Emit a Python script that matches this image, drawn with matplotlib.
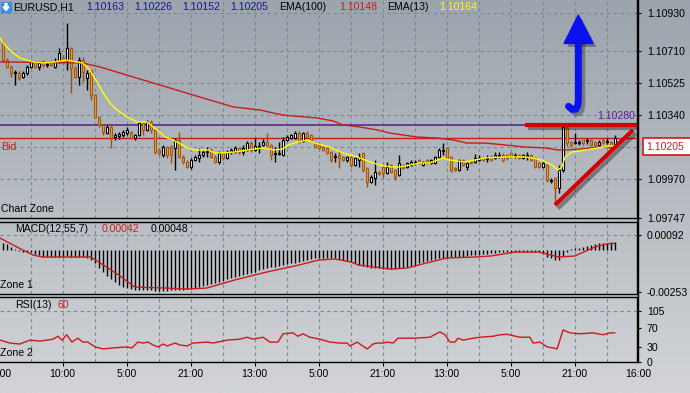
import numpy as np
import matplotlib
matplotlib.use("Agg")
import matplotlib.pyplot as plt
from matplotlib.patches import Rectangle, Polygon
import matplotlib.patheffects as pe

plt.rcParams['font.family'] = ['Liberation Sans', 'DejaVu Sans']

# ---------------- data (EURUSD H1) ----------------
opens = [1.10756, 1.10658, 1.10618, 1.10583, 1.10583, 1.10560, 1.10583, 1.10618, 1.10647, 1.10618,
         1.10647, 1.10629, 1.10647, 1.10618, 1.10647, 1.10670, 1.10658, 1.10728, 1.10612, 1.10560,
         1.10658, 1.10554, 1.10600, 1.10456, 1.10329, 1.10283, 1.10236, 1.10271, 1.10213, 1.10219,
         1.10225, 1.10236, 1.10242, 1.10207, 1.10225, 1.10294, 1.10254, 1.10300, 1.10254, 1.10138,
         1.10109, 1.10155, 1.10155, 1.10150, 1.10196, 1.10098, 1.10069, 1.10040, 1.10080, 1.10092,
         1.10109, 1.10126, 1.10138, 1.10098, 1.10069, 1.10121, 1.10092, 1.10126, 1.10126, 1.10150,
         1.10126, 1.10138, 1.10178, 1.10138, 1.10155, 1.10167, 1.10184, 1.10167, 1.10115, 1.10115,
         1.10109, 1.10196, 1.10207, 1.10207, 1.10236, 1.10190, 1.10236, 1.10225, 1.10178, 1.10167,
         1.10155, 1.10150, 1.10126, 1.10098, 1.10109, 1.10098, 1.10080, 1.10098, 1.10051, 1.10080,
         1.10121, 1.10034, 1.09953, 1.09976, 1.10011, 1.10040, 1.10005, 1.10051, 1.10022, 1.09993,
         1.10051, 1.10040, 1.10051, 1.10063, 1.10080, 1.10051, 1.10080, 1.10063, 1.10063, 1.10098,
         1.10132, 1.10150, 1.10098, 1.10034, 1.10022, 1.10080, 1.10040, 1.10069, 1.10069, 1.10080,
         1.10092, 1.10086, 1.10098, 1.10092, 1.10103, 1.10109, 1.10109, 1.10121, 1.10103, 1.10109,
         1.10092, 1.10103, 1.10109, 1.10092, 1.10063, 1.10040, 1.10051, 1.09959, 1.09976, 1.09918,
         1.10022, 1.10265, 1.10184, 1.10178, 1.10178, 1.10207, 1.10190, 1.10196, 1.10184, 1.10167,
         1.10196, 1.10184, 1.10184, 1.10163]
highs = [1.10774, 1.10670, 1.10629, 1.10600, 1.10595, 1.10595, 1.10629, 1.10658, 1.10652, 1.10647,
         1.10658, 1.10647, 1.10658, 1.10670, 1.10728, 1.10687, 1.10872, 1.10733, 1.10624, 1.10676,
         1.10676, 1.10600, 1.10606, 1.10462, 1.10335, 1.10288, 1.10283, 1.10288, 1.10236, 1.10242,
         1.10254, 1.10271, 1.10248, 1.10231, 1.10306, 1.10300, 1.10311, 1.10311, 1.10259, 1.10150,
         1.10167, 1.10161, 1.10167, 1.10207, 1.10242, 1.10109, 1.10080, 1.10092, 1.10109, 1.10150,
         1.10138, 1.10155, 1.10150, 1.10109, 1.10132, 1.10126, 1.10138, 1.10150, 1.10161, 1.10155,
         1.10167, 1.10190, 1.10190, 1.10207, 1.10184, 1.10202, 1.10236, 1.10173, 1.10155, 1.10184,
         1.10213, 1.10225, 1.10231, 1.10248, 1.10248, 1.10242, 1.10248, 1.10231, 1.10184, 1.10173,
         1.10161, 1.10155, 1.10132, 1.10121, 1.10138, 1.10103, 1.10103, 1.10103, 1.10098, 1.10121,
         1.10126, 1.10040, 1.09993, 1.10080, 1.10017, 1.10051, 1.10069, 1.10057, 1.10028, 1.10109,
         1.10057, 1.10069, 1.10080, 1.10080, 1.10086, 1.10074, 1.10086, 1.10086, 1.10103, 1.10150,
         1.10178, 1.10155, 1.10103, 1.10040, 1.10086, 1.10086, 1.10069, 1.10080, 1.10115, 1.10109,
         1.10098, 1.10109, 1.10109, 1.10126, 1.10126, 1.10121, 1.10115, 1.10126, 1.10121, 1.10115,
         1.10115, 1.10126, 1.10115, 1.10098, 1.10069, 1.10069, 1.10057, 1.09976, 1.09982, 1.10051,
         1.10283, 1.10283, 1.10190, 1.10236, 1.10196, 1.10213, 1.10207, 1.10202, 1.10190, 1.10196,
         1.10207, 1.10207, 1.10190, 1.10226]
lows = [1.10647, 1.10612, 1.10560, 1.10514, 1.10543, 1.10554, 1.10571, 1.10612, 1.10612, 1.10600,
        1.10618, 1.10618, 1.10624, 1.10612, 1.10641, 1.10635, 1.10600, 1.10467, 1.10554, 1.10514,
        1.10531, 1.10485, 1.10427, 1.10323, 1.10271, 1.10225, 1.10231, 1.10150, 1.10196, 1.10202,
        1.10213, 1.10225, 1.10202, 1.10196, 1.10219, 1.10225, 1.10248, 1.10236, 1.10115, 1.10109,
        1.10098, 1.10092, 1.10063, 1.10022, 1.10092, 1.10057, 1.10034, 1.10028, 1.10074, 1.10069,
        1.10098, 1.10098, 1.10092, 1.10063, 1.10057, 1.10080, 1.10086, 1.10115, 1.10121, 1.10115,
        1.10109, 1.10132, 1.10126, 1.10132, 1.10121, 1.10161, 1.10161, 1.10080, 1.10069, 1.10109,
        1.10103, 1.10190, 1.10202, 1.10202, 1.10178, 1.10184, 1.10207, 1.10190, 1.10150, 1.10144,
        1.10132, 1.10115, 1.10069, 1.10069, 1.10034, 1.10074, 1.10069, 1.10040, 1.10046, 1.10040,
        1.10011, 1.09924, 1.09947, 1.09936, 1.09993, 1.09976, 1.09999, 1.10005, 1.09965, 1.09988,
        1.10028, 1.10034, 1.10046, 1.10051, 1.10057, 1.10046, 1.10057, 1.10057, 1.10057, 1.10092,
        1.10109, 1.10086, 1.10011, 1.10017, 1.10017, 1.10046, 1.10022, 1.10057, 1.10063, 1.10074,
        1.10074, 1.10069, 1.10074, 1.10086, 1.10092, 1.10069, 1.10080, 1.10092, 1.10092, 1.10086,
        1.10086, 1.10080, 1.10074, 1.10034, 1.10034, 1.10034, 1.09953, 1.09947, 1.09820, 1.09890,
        1.10011, 1.10161, 1.10155, 1.10173, 1.10167, 1.10167, 1.10173, 1.10161, 1.10155, 1.10161,
        1.10173, 1.10173, 1.10161, 1.10152]
closes = [1.10658, 1.10618, 1.10583, 1.10589, 1.10554, 1.10583, 1.10618, 1.10647, 1.10618, 1.10641,
          1.10629, 1.10635, 1.10629, 1.10647, 1.10699, 1.10647, 1.10728, 1.10612, 1.10560, 1.10658,
          1.10589, 1.10583, 1.10456, 1.10329, 1.10283, 1.10242, 1.10271, 1.10207, 1.10225, 1.10231,
          1.10242, 1.10254, 1.10207, 1.10225, 1.10294, 1.10254, 1.10300, 1.10254, 1.10126, 1.10121,
          1.10155, 1.10109, 1.10109, 1.10196, 1.10098, 1.10069, 1.10040, 1.10080, 1.10098, 1.10109,
          1.10126, 1.10132, 1.10098, 1.10069, 1.10121, 1.10092, 1.10126, 1.10138, 1.10150, 1.10126,
          1.10150, 1.10178, 1.10138, 1.10161, 1.10161, 1.10184, 1.10167, 1.10109, 1.10121, 1.10121,
          1.10196, 1.10213, 1.10225, 1.10236, 1.10184, 1.10236, 1.10213, 1.10196, 1.10155, 1.10150,
          1.10138, 1.10121, 1.10080, 1.10103, 1.10092, 1.10080, 1.10098, 1.10051, 1.10092, 1.10098,
          1.10022, 1.09953, 1.09982, 1.10011, 1.09999, 1.10005, 1.10040, 1.10011, 1.09982, 1.10063,
          1.10034, 1.10063, 1.10069, 1.10069, 1.10063, 1.10069, 1.10063, 1.10080, 1.10098, 1.10138,
          1.10138, 1.10092, 1.10022, 1.10022, 1.10080, 1.10051, 1.10063, 1.10063, 1.10092, 1.10092,
          1.10080, 1.10092, 1.10080, 1.10109, 1.10109, 1.10080, 1.10092, 1.10098, 1.10109, 1.10092,
          1.10109, 1.10109, 1.10080, 1.10040, 1.10040, 1.10063, 1.09965, 1.09965, 1.09918, 1.10022,
          1.10271, 1.10178, 1.10167, 1.10184, 1.10184, 1.10178, 1.10196, 1.10167, 1.10167, 1.10184,
          1.10178, 1.10190, 1.10167, 1.10205]

ema13_idx = [-0.7, 1, 2.6, 4.3, 6, 7.6, 10, 13, 16, 18.5, 20, 21.8, 23.6, 25.1, 26.8, 28.6, 31.1,
             33.6, 36.1, 37.6, 39.3, 40.6, 42.6, 46.3, 48, 51.3, 53, 54.8, 58, 61.3, 64.8, 68, 70,
             71.3, 73.8, 76.3, 78, 81.8, 85, 88.6, 91.8, 94.3, 96.8, 99.3, 101.8, 104.3, 106.8, 110,
             111.8, 115.6, 120.6, 125.6, 130.6, 132.3, 134.8, 137.3, 138.8, 139.8, 140.6, 142.3,
             145.6, 148.8, 153]
ema13_val = [1.10785, 1.10733, 1.10699, 1.10670, 1.10658, 1.10647, 1.10641, 1.10647, 1.10658,
             1.10647, 1.10641, 1.10600, 1.10531, 1.10467, 1.10410, 1.10369, 1.10329, 1.10300,
             1.10300, 1.10271, 1.10242, 1.10213, 1.10196, 1.10150, 1.10138, 1.10138, 1.10121,
             1.10121, 1.10126, 1.10138, 1.10150, 1.10138, 1.10144, 1.10167, 1.10184, 1.10196,
             1.10178, 1.10155, 1.10121, 1.10098, 1.10069, 1.10051, 1.10040, 1.10040, 1.10051,
             1.10063, 1.10063, 1.10092, 1.10080, 1.10069, 1.10092, 1.10098, 1.10098, 1.10092,
             1.10080, 1.10051, 1.10022, 1.10040, 1.10098, 1.10126, 1.10138, 1.10150, 1.10164]

ema100_idx = [-0.7, 20, 24.3, 28.5, 32.6, 36.8, 41, 46, 49.3, 57.6, 64.3, 70, 78.6, 82.6, 85, 89.3,
              93.6, 96.8, 100, 103.6, 108.6, 112.6, 116, 120.6, 125.6, 130.6, 135.6, 138.8, 140.6,
              144.8, 148.8, 153]
ema100_val = [1.10647, 1.10641, 1.10618, 1.10589, 1.10560, 1.10531, 1.10502, 1.10467, 1.10444,
              1.10387, 1.10369, 1.10340, 1.10323, 1.10306, 1.10283, 1.10271, 1.10254, 1.10236,
              1.10225, 1.10213, 1.10207, 1.10196, 1.10178, 1.10178, 1.10167, 1.10155, 1.10150,
              1.10138, 1.10138, 1.10144, 1.10155, 1.10150]

# MACD histogram, in units of 1e-5
macd_hist_e5 = [45, 35, 22, 8, -5, -8, -10, -12, -20, -30,
                -38, -40, -41, -41, -40, -38, -36, -38, -40, -42, -42, -44,
                -60, -80, -105, -130, -155, -172, -190, -208, -220, -230, -236, -239,
                -241, -242, -243, -243, -244, -244, -244, -244, -243, -242, -241,
                -240, -237, -233, -228, -223, -217, -210, -204, -198, -192, -185, -177,
                -170, -162, -156, -150, -144, -138, -130, -122, -115, -108, -104, -100,
                -95, -90, -85, -80, -75, -71, -66, -60, -54, -48, -46, -45,
                -46, -47, -50, -55, -62, -68, -74, -80, -90, -95, -100, -105,
                -108, -110, -112, -113, -114, -112, -108, -105, -102, -95, -88, -80,
                -71, -64, -57, -52, -47, -45, -44, -43, -42, -41, -38, -34,
                -31, -29, -26, -23, -20, -17, -15, -13, -12, -11, -10, -9,
                -9, -8, -8, -9, -10, -11, -25, -41, -50, -58, -59, -35,
                -10, 5, 13, 16, 19, 25, 32, 38, 41, 44, 46, 47, 48]
signal_idx = [-0.7, 3.6, 7.6, 10, 22, 24, 29, 33, 41, 46, 51, 58, 66, 74, 79, 83, 87, 89, 97, 101,
              105, 111, 118, 122, 128, 134, 139, 143, 148, 151, 153]
signal_e5 = [74, 19, -29, -41, -41, -71, -150, -223, -229, -235, -229, -180, -132, -90, -59, -53,
             -71, -90, -114, -108, -83, -47, -41, -35, -11, -11, -41, -35, 19, 38, 42]

rsi_idx = [-0.6, 1.8, 4.3, 6.8, 9.3, 12.6, 13.8, 14.8, 16, 17.3,
           18.8, 20, 21.3, 23.1, 25.1, 27.6, 31.1, 32.3, 33.8, 35.1,
           36.3, 37.6, 38.8, 40.1, 41.1, 43.1, 44.3, 46.1, 47.6, 51.1,
           52.6, 56.1, 59.3, 61.1, 62.6, 65.1, 66.8, 68.8, 70.1, 72.6,
           73.8, 75.1, 76.8, 79.3, 81.8, 84.3, 86.1, 86.8, 88.6, 91.1,
           92.6, 93.6, 95.1, 96.1, 97.6, 98.8, 101.1, 103.1, 106.8, 109.3,
           110.6, 111.8, 113.1, 113.8, 115.1, 117.6, 119.3, 122.6, 124.3, 126.1,
           129.3, 131.8, 132.6, 134.3, 136.1, 137.6, 138.6, 140.1, 141.8, 144.3,
           147.6, 150.1, 151.8, 153]
rsi_val = [45, 39, 37, 45, 43, 47, 53, 45, 56, 41,
           49, 41, 41, 31, 27, 29, 31, 29, 41, 39,
           41, 35, 31, 37, 33, 39, 35, 33, 39, 41,
           39, 45, 47, 51, 47, 51, 41, 41, 58, 60,
           53, 58, 51, 47, 41, 39, 39, 33, 41, 27,
           37, 39, 39, 41, 39, 49, 49, 49, 51, 62,
           56, 41, 41, 49, 45, 49, 51, 53, 56, 57,
           51, 51, 39, 41, 31, 29, 27, 66, 60, 58,
           60, 56, 60, 60]

price_ticks = [1.10930, 1.10710, 1.10525, 1.10340, 1.09970, 1.09747]
price_grid = [1.10930, 1.10710, 1.10525, 1.10340, 1.10155, 1.09970]
macd_ticks = [0.00092, -0.00253]
rsi_ticks = [105, 70, 30, 0]
time_label_idx = [-1, 15, 31, 47, 63, 79, 95, 111, 127, 143, 159]
time_labels = ["18:00", "10:00", "5:00", "21:00", "13:00", "5:00", "21:00", "13:00", "5:00", "21:00", "16:00"]
bid_price = 1.10205
hline_price = 1.10280
trend_start = (138.1, 1.09820)
trend_end = (157.6, 1.10254)
level_start_idx = 130.6

# ---------------- figure ----------------
W, H = 690, 393
fig = plt.figure(figsize=(W / 100, H / 100), dpi=100)

bg = fig.add_axes([0, 0, 1, 1], zorder=0)
g = np.linspace(0, 1, 256)[:, None, None]
ctop = np.array([156, 164, 173]) / 255
cbot = np.array([210, 212, 215]) / 255
bg.imshow(ctop + (cbot - ctop) * g, aspect='auto', extent=[0, 1, 0, 1])
bg.axis('off')


def px_axes(x0, y0, x1, y1, z=2):
    a = fig.add_axes([x0 / W, 1 - y1 / H, (x1 - x0) / W, (y1 - y0) / H], zorder=z)
    a.set_facecolor('none')
    return a


XL = (-0.675, 158.575)
GRID = dict(color='#7b8796', lw=0.8, ls=(0, (3, 3)), zorder=0.5)
FS = 7.6


def style(a):
    a.set_xlim(*XL)
    a.spines['left'].set_visible(False)
    for s in ('top', 'bottom', 'right'):
        a.spines[s].set_color('black')
        a.spines[s].set_linewidth(1.0)
    a.yaxis.tick_right()
    a.tick_params(axis='y', direction='out', length=3, width=0.8, colors='black',
                  labelsize=FS, pad=4)
    a.set_xticks([])
    for v in range(7, 159, 8):
        a.axvline(v, **GRID)


# main pane
ax = px_axes(0, 0, 637, 218.5)
style(ax)
ax.spines['top'].set_visible(False)
ax.set_ylim(1.09742, 1.11005)
ax.set_yticks(price_ticks)
ax.set_yticklabels([f"{p:.5f}" for p in price_ticks])
for p in price_grid:
    ax.axhline(p, **GRID)

o, h, l, c = map(np.array, (opens, highs, lows, closes))
idx = np.arange(len(c))
up = c >= o
ax.vlines(idx[up], l[up], h[up], color='black', lw=1, zorder=3)
ax.vlines(idx[~up], l[~up], h[~up], color='#9c4f12', lw=1, zorder=3)
blo = np.minimum(o, c)
bh = np.maximum(np.abs(c - o), 0.00002)
ax.bar(idx[up], bh[up], bottom=blo[up], width=0.5, color='white', edgecolor='black', lw=0.8, zorder=4)
ax.bar(idx[~up], bh[~up], bottom=blo[~up], width=0.5, color='#f4a21c', edgecolor='#a5561a', lw=0.8, zorder=4)

ax.axhline(hline_price, color='#561a92', lw=1.1, zorder=2)
ax.axhline(bid_price, color='#d21818', lw=1.0, zorder=2)
ax.plot(ema100_idx, ema100_val, color='#c41e1e', lw=1.0, zorder=5)
ax.plot(ema13_idx, ema13_val, color='#ffff00', lw=1.0, zorder=5)

shadow = [pe.SimpleLineShadow(offset=(2, -2.5), shadow_color='black', alpha=0.35), pe.Normal()]
ax.plot([level_start_idx, XL[1]], [hline_price + 0.00003] * 2, color='#d40000', lw=3,
        solid_capstyle='butt', path_effects=shadow, zorder=6)
ax.plot([trend_start[0], trend_end[0]], [trend_start[1], trend_end[1]], color='#d40000', lw=3,
        solid_capstyle='butt', path_effects=shadow, zorder=6)

# MACD pane
am = px_axes(0, 221.5, 637, 294)
style(am)
am.set_ylim(-0.00265, 0.00174)
am.set_yticks(macd_ticks)
am.set_yticklabels(["0.00092", "-0.00253"])
am.axhline(0.00092, **GRID)
hist = np.array(macd_hist_e5) * 1e-5
am.vlines(np.arange(len(hist)), 0, hist, color='black', lw=1, zorder=3)
am.plot(signal_idx, np.array(signal_e5) * 1e-5, color='#cc1a1a', lw=1.0, zorder=4)

# RSI pane
ar = px_axes(0, 297, 637, 362)
style(ar)
ar.set_ylim(0, 133.8)
ar.set_yticks(rsi_ticks)
ar.set_yticklabels([str(t) for t in rsi_ticks])
ar.axhline(105, **GRID)
ar.plot(rsi_idx, rsi_val, color='#cc1a1a', lw=1.0, zorder=4)
ar.set_xticks([t for t in time_label_idx if XL[0] <= t <= XL[1]])
ar.tick_params(axis='x', direction='out', length=3, width=0.8, labelbottom=False)
for t, lab in zip(time_label_idx, time_labels):
    ar.text(t, -0.19, lab, transform=ar.get_xaxis_transform(), ha='center', va='center',
            fontsize=FS, color='black', clip_on=False)

# overlay (pixel coordinates) for labels & drawn objects
ov = fig.add_axes([0, 0, 1, 1], zorder=10)
ov.set_xlim(0, W)
ov.set_ylim(H, 0)
ov.axis('off')
ov.set_facecolor('none')
ov.plot([637.5, 637.5], [0, 362], color='black', lw=1)

# title row
ov.add_patch(Rectangle((1, 2), 10, 10, color='#3c8ee2'))
ov.add_patch(Polygon([(5, 3.5), (7, 3.5), (7, 7), (9, 7), (6, 10.5), (3, 7), (5, 7)], color='white'))
ty = 7.5
ov.text(13, ty, "EURUSD,H1", fontsize=FS, va='center', color='black')
for x, s in [(86, "1.10163"), (134, "1.10226"), (182, "1.10152"), (230, "1.10205")]:
    ov.text(x, ty, s, fontsize=FS, va='center', color='#181890')
ov.text(279, ty, "EMA(100)", fontsize=FS, va='center', color='black')
ov.text(339, ty, "1.10148", fontsize=FS, va='center', color='#c81e1e')
ov.text(387, ty, "EMA(13)", fontsize=FS, va='center', color='black')
ov.text(439, ty, "1.10164", fontsize=FS, va='center', color='#ffff00')

ov.text(1, 146.5, "Bid", fontsize=FS, va='center', color='#c81e1e')
ov.text(1, 209, "Chart Zone", fontsize=FS, va='center', color='black')
ov.text(635, 116, "1.10280", fontsize=FS, va='center', ha='right', color='#5a1a9a')

ov.text(15, 229.5, "MACD(12,55,7)", fontsize=FS, va='center', color='black')
ov.text(102, 229.5, "0.00042", fontsize=FS, va='center', color='#c81e1e')
ov.text(151, 229.5, "0.00048", fontsize=FS, va='center', color='black')
ov.text(0, 285, "Zone 1", fontsize=FS, va='center', color='black')

ov.text(15, 305.5, "RSI(13)", fontsize=FS, va='center', color='black')
ov.text(58, 305.5, "60", fontsize=FS, va='center', color='#c81e1e')
ov.text(0, 353, "Zone 2", fontsize=FS, va='center', color='black')

# bid price box on the scale
ov.add_patch(Rectangle((642.5, 138), 52, 17, facecolor='white', edgecolor='#d21818', lw=1.2))
ov.text(646, 146.7, "1.10205", fontsize=FS, va='center', color='#c81e1e')

# blue arrow (drawn object)
ash = [pe.SimpleLineShadow(offset=(2.5, -2.5), shadow_color='black', alpha=0.3), pe.Normal()]
ov.plot([578.3, 578.3, 577.6, 575.5, 572, 568.5], [42, 101, 106, 109.3, 109.3, 106.3],
        color='#0a10f0', lw=5, solid_capstyle='round', solid_joinstyle='round', path_effects=ash)
head = Polygon([(564, 43.5), (593, 43.5), (578.3, 15)], closed=True, facecolor='#0a10f0',
               edgecolor='#0a10f0')
head.set_path_effects([pe.SimplePatchShadow(offset=(2.5, -2.5), shadow_rgbFace='black', alpha=0.3), pe.Normal()])
ov.add_patch(head)

fig.savefig("out.png", dpi=100)
